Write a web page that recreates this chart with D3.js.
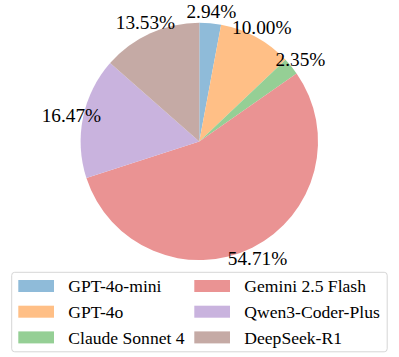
<!DOCTYPE html>
<html>
<head>
<meta charset="utf-8">
<script src="https://cdn.jsdelivr.net/npm/d3@7"></script>
<style>
  body { margin: 0; background: #fff; }
  text { font-family: "Liberation Serif", "Times New Roman", serif; fill: #000; }
</style>
</head>
<body>
<svg width="399" height="357"></svg>
<script>
const width = 399;
const height = 357;

const models = ["GPT-4o-mini", "GPT-4o", "Claude Sonnet 4", "Gemini 2.5 Flash", "Qwen3-Coder-Plus", "DeepSeek-R1"];
const shares = [2.94, 10.00, 2.35, 54.71, 16.47, 13.53];
const colors = ["#8fbbd9", "#ffbf86", "#95cf95", "#ea9393", "#c9b3de", "#c5aaa5"];

const svg = d3.select("svg");

const radius = 118.7;
const cx = 199.3, cy = 141.4;

const g = svg.append("g")
  .attr("transform", "translate(" + cx + "," + cy + ")");

const color = d3.scaleOrdinal().domain(models).range(colors);

const pie = d3.pie()
  .sort(null)
  .value(d => d.value);

const arc = d3.arc()
  .innerRadius(0)
  .outerRadius(radius);

// labels sit a bit outside the rim
const labelArc = d3.arc()
  .innerRadius(radius * 1.1)
  .outerRadius(radius * 1.1);

const data = models.map((m, i) => ({ label: m, value: shares[i] }));

g.selectAll("path")
  .data(pie(data))
  .enter().append("path")
  .attr("d", arc)
  .attr("fill", d => color(d.data.label));

g.selectAll(".pct")
  .data(pie(data))
  .enter().append("text")
  .attr("class", "pct")
  .attr("transform", d => "translate(" + labelArc.centroid(d) + ")")
  .attr("text-anchor", "middle")
  .attr("dy", "0.35em")
  .style("font-size", "19.3px")
  .text(d => d.data.value.toFixed(2) + "%");

// legend
const legend = svg.append("g").attr("transform", "translate(11.7,272.3)");
legend.append("rect")
  .attr("width", 375.5)
  .attr("height", 79.5)
  .attr("rx", 3)
  .attr("fill", "#fff")
  .attr("stroke", "#d6d6d6")
  .attr("stroke-width", 1);

const items = legend.selectAll(".item")
  .data(models)
  .enter().append("g")
  .attr("class", "item")
  .attr("transform", (d, i) => {
    const col = Math.floor(i / 3), row = i % 3;
    return "translate(" + (6.6 + col * 176) + "," + (13.7 + row * 25.7) + ")";
  });

items.append("rect")
  .attr("x", 0)
  .attr("y", -6)
  .attr("width", 35.7)
  .attr("height", 12)
  .attr("fill", d => color(d));

items.append("text")
  .attr("x", 50)
  .attr("dy", "0.35em")
  .style("font-size", "17.6px")
  .text(d => d);
</script>
</body>
</html>
